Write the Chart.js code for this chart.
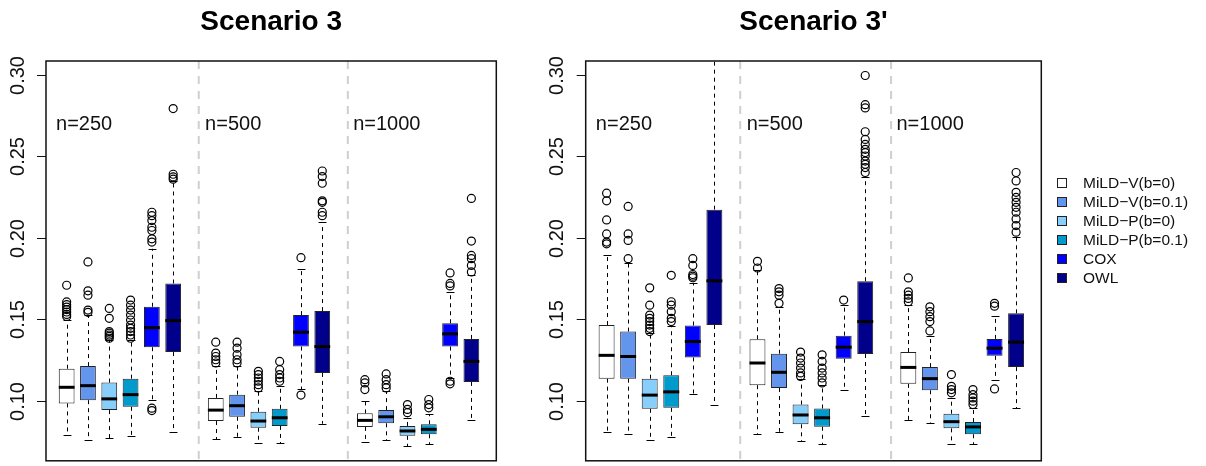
<!DOCTYPE html>
<html>
<head>
<meta charset="utf-8">
<script src="https://cdn.jsdelivr.net/npm/chart.js@4.4.0/dist/chart.umd.min.js"></script>
<style>
    body { margin: 0; background: #fff; width: 1206px; height: 466px; overflow: hidden; position: relative; font-family: "Liberation Sans", Arial, sans-serif; }
    .panel { position: absolute; top: 0; width: 540px; height: 466px; }
    #legend { position: absolute; left: 1057px; top: 173px; }
    #legend .item { height: 19.1px; display: flex; align-items: center; font-size: 15.5px; color: #111; white-space: nowrap; }
    #legend .sw { width: 8px; height: 8px; border: 1px solid #222; margin-right: 16px; }
</style>
</head>
<body>
<div class="panel" style="left:0"><canvas id="chartS3"></canvas></div>
<div class="panel" style="left:540px"><canvas id="chartS3p"></canvas></div>
<div id="legend"></div>
<script>
const methods = ['MiLD\u2212V(b=0)', 'MiLD\u2212V(b=0.1)', 'MiLD\u2212P(b=0)', 'MiLD\u2212P(b=0.1)', 'COX', 'OWL'];
const groups = ['n=250', 'n=500', 'n=1000'];
const yTicks = [0.10, 0.15, 0.20, 0.25, 0.30];

// Scenario 3 -- values per box, order: n=250 (6 methods), n=500, n=1000
const s3Lower  = [0.0791, 0.0758, 0.0770, 0.0785, 0.1008, 0.0811,
                  0.0764, 0.0780, 0.0740, 0.0740, 0.1070, 0.0860,
                  0.0748, 0.0760, 0.0720, 0.0734, 0.1140, 0.0882];
const s3Q1     = [0.0984, 0.1004, 0.0943, 0.0963, 0.1329, 0.1299,
                  0.0876, 0.0902, 0.0835, 0.0846, 0.1333, 0.1171,
                  0.0840, 0.0862, 0.0785, 0.0795, 0.1333, 0.1116];
const s3Median = [0.1083, 0.1093, 0.1012, 0.1038, 0.1449, 0.1492,
                  0.0943, 0.0970, 0.0876, 0.0896, 0.1421, 0.1333,
                  0.0880, 0.0902, 0.0815, 0.0825, 0.1411, 0.1242];
const s3Q3     = [0.1197, 0.1213, 0.1112, 0.1136, 0.1577, 0.1720,
                  0.1018, 0.1038, 0.0933, 0.0951, 0.1526, 0.1551,
                  0.0923, 0.0943, 0.0846, 0.0856, 0.1476, 0.1380];
const s3Upper  = [0.1496, 0.1526, 0.1374, 0.1374, 0.1933, 0.2349,
                  0.1211, 0.1211, 0.1059, 0.1089, 0.1807, 0.2096,
                  0.0998, 0.1059, 0.0896, 0.0917, 0.1665, 0.1770];
const s3Outliers = [
    [0.1518, 0.1530, 0.1545, 0.1560, 0.1575, 0.1590, 0.1607, 0.1709],
    [0.1543, 0.1557, 0.1648, 0.1675, 0.1852],
    [0.1384, 0.1395, 0.1404, 0.1415, 0.1425, 0.1506, 0.1567],
    [0.1384, 0.1404, 0.1425, 0.1445, 0.1465, 0.1496, 0.1526, 0.1557, 0.1587, 0.1618],
    [0.0940, 0.0955, 0.1974, 0.1994, 0.2045, 0.2065, 0.2106, 0.2136, 0.2157],
    [0.2360, 0.2374, 0.2390, 0.2793],
    [0.1232, 0.1252, 0.1272, 0.1293, 0.1360],
    [0.1232, 0.1252, 0.1283, 0.1323, 0.1360],
    [0.1079, 0.1099, 0.1120, 0.1140, 0.1161, 0.1181],
    [0.1120, 0.1140, 0.1161, 0.1191, 0.1242],
    [0.1035, 0.1878],
    [0.2136, 0.2157, 0.2218, 0.2227, 0.2335, 0.2376, 0.2410],
    [0.1069, 0.1110, 0.1130],
    [0.1079, 0.1099, 0.1130, 0.1165],
    [0.0927, 0.0947, 0.0977],
    [0.0957, 0.0977, 0.1008],
    [0.1104, 0.1120, 0.1705, 0.1720, 0.1785],
    [0.1791, 0.1831, 0.1872, 0.1892, 0.1980, 0.2242]
];

// Scenario 3'
const s3pLower  = [0.0811, 0.0795, 0.0760, 0.0780, 0.1043, 0.0977,
                   0.0795, 0.0811, 0.0754, 0.0734, 0.1069, 0.0907,
                   0.0882, 0.0866, 0.0734, 0.0734, 0.1130, 0.0953];
const s3pQ1     = [0.1136, 0.1136, 0.0951, 0.0957, 0.1266, 0.1465,
                   0.1096, 0.1079, 0.0856, 0.0841, 0.1258, 0.1287,
                   0.1104, 0.1065, 0.0831, 0.0795, 0.1276, 0.1207];
const s3pMedian = [0.1279, 0.1272, 0.1035, 0.1055, 0.1364, 0.1736,
                   0.1232, 0.1175, 0.0913, 0.0896, 0.1329, 0.1486,
                   0.1205, 0.1136, 0.0872, 0.0840, 0.1323, 0.1360];
const s3pQ3     = [0.1465, 0.1425, 0.1136, 0.1157, 0.1462, 0.2173,
                   0.1378, 0.1289, 0.0977, 0.0953, 0.1400, 0.1734,
                   0.1299, 0.1207, 0.0921, 0.0870, 0.1380, 0.1537];
const s3pUpper  = [0.1896, 0.1846, 0.1415, 0.1462, 0.1725, 0.3150,
                   0.1801, 0.1575, 0.1135, 0.1095, 0.1587, 0.2376,
                   0.1587, 0.1398, 0.1018, 0.0957, 0.1520, 0.2008];
const s3pOutliers = [
    [0.1963, 0.1974, 0.2024, 0.2110, 0.2227, 0.2274],
    [0.1872, 0.1984, 0.2024, 0.2193],
    [0.1425, 0.1445, 0.1465, 0.1486, 0.1506, 0.1526, 0.1587, 0.1693],
    [0.1486, 0.1506, 0.1547, 0.1587, 0.1608, 0.1770],
    [0.1755, 0.1765, 0.1775, 0.1831, 0.1872],
    [],
    [0.1815, 0.1856],
    [0.1598, 0.1648, 0.1669, 0.1689],
    [0.1150, 0.1171, 0.1201, 0.1232, 0.1262, 0.1299],
    [0.1110, 0.1140, 0.1171, 0.1201, 0.1242, 0.1282],
    [0.1618],
    [0.2401, 0.2431, 0.2451, 0.2471, 0.2502, 0.2523, 0.2543, 0.2573, 0.2604, 0.2651, 0.2797, 0.2817, 0.2996],
    [0.1608, 0.1628, 0.1648, 0.1669, 0.1754],
    [0.1429, 0.1486, 0.1516, 0.1547, 0.1577],
    [0.1049, 0.1069, 0.1089, 0.1161],
    [0.0977, 0.0998, 0.1018, 0.1038, 0.1069],
    [0.1073, 0.1581, 0.1598],
    [0.2035, 0.2075, 0.2116, 0.2157, 0.2187, 0.2218, 0.2248, 0.2279, 0.2349, 0.2401]
];

const colors = ['#FFFFFF', '#6495ED', '#87CEFA', '#009ACD', '#0000FF', '#00008B'];
const FONT = "'Liberation Sans', Arial, sans-serif";

// box position on the x axis: 6 boxes per group, one empty slot between groups
function boxX(g, m) { return g * 7 + m + 1; }

function seg(ctx, x1, y1, x2, y2) {
    ctx.beginPath();
    ctx.moveTo(x1, y1);
    ctx.lineTo(x2, y2);
    ctx.stroke();
}

function boxExtras(st) {
    return {
        id: 'boxExtras',
        beforeDatasetsDraw(chart) {
            const { ctx, chartArea: a, scales: { x, y } } = chart;
            ctx.save();
            // dashed group separators
            ctx.strokeStyle = '#cfcfcf';
            ctx.lineWidth = 2;
            ctx.setLineDash([8, 7]);
            [7.2, 14.2].forEach(v => {
                const px = x.getPixelForValue(v);
                seg(ctx, px, a.top, px, a.bottom);
            });
            // whiskers + staples
            ctx.beginPath();
            ctx.rect(a.left, a.top, a.right - a.left, a.bottom - a.top);
            ctx.clip();
            ctx.strokeStyle = '#000';
            ctx.lineWidth = 1;
            groups.forEach((_, g) => methods.forEach((_, m) => {
                const i = g * 6 + m;
                const bar = chart.getDatasetMeta(m).data[g];
                const px = Math.round(bar.x) + 0.5;
                const cap = bar.width / 4;
                ctx.setLineDash([4, 4]);
                seg(ctx, px, y.getPixelForValue(st.q3[i]), px, y.getPixelForValue(st.hi[i]));
                seg(ctx, px, y.getPixelForValue(st.q1[i]), px, y.getPixelForValue(st.lo[i]));
                ctx.setLineDash([]);
                [st.lo[i], st.hi[i]].forEach(v => {
                    const py = Math.round(y.getPixelForValue(v)) + 0.5;
                    seg(ctx, px - cap, py, px + cap, py);
                });
            }));
            ctx.restore();
        },
        afterDatasetsDraw(chart) {
            const { ctx, scales: { y } } = chart;
            ctx.save();
            ctx.strokeStyle = '#000';
            ctx.lineWidth = 3;
            groups.forEach((_, g) => methods.forEach((_, m) => {
                const bar = chart.getDatasetMeta(m).data[g];
                const py = y.getPixelForValue(st.med[g * 6 + m]);
                seg(ctx, bar.x - bar.width / 2, py, bar.x + bar.width / 2, py);
            }));
            ctx.restore();
        },
        afterDraw(chart) {
            const { ctx, chartArea: a, scales: { x, y } } = chart;
            ctx.save();
            // y axis ticks and rotated labels
            ctx.strokeStyle = '#111';
            ctx.lineWidth = 1;
            ctx.fillStyle = '#111';
            ctx.font = '20px ' + FONT;
            ctx.textAlign = 'center';
            ctx.textBaseline = 'middle';
            yTicks.forEach(v => {
                const py = Math.round(y.getPixelForValue(v)) + 0.5;
                seg(ctx, a.left - 9, py, a.left, py);
                ctx.save();
                ctx.translate(a.left - 28, py);
                ctx.rotate(-Math.PI / 2);
                ctx.fillText(v.toFixed(2), 0, 0);
                ctx.restore();
            });
            // sample size labels
            ctx.textAlign = 'left';
            [0.5, 7.5, 14.45].forEach((v, g) => {
                ctx.fillText(groups[g], x.getPixelForValue(v), y.getPixelForValue(0.2695));
            });
            // plot frame
            ctx.strokeStyle = '#111';
            ctx.lineWidth = 1.5;
            ctx.strokeRect(a.left, a.top, a.right - a.left, a.bottom - a.top);
            ctx.restore();
        }
    };
}

function makeChart(id, title, st, pad) {
    const datasets = methods.map((name, m) => ({
        label: name,
        data: groups.map((_, g) => ({ x: boxX(g, m), y: [st.q1[g * 6 + m], st.q3[g * 6 + m]] })),
        backgroundColor: colors[m],
        borderColor: '#222',
        borderWidth: 1,
        borderSkipped: false,
        grouped: false,
        barPercentage: 0.74,
        categoryPercentage: 1
    }));
    const outPoints = [];
    st.out.forEach((vals, i) => {
        const g = Math.floor(i / 6), m = i % 6;
        vals.forEach(v => outPoints.push({ x: boxX(g, m), y: v }));
    });
    datasets.push({
        type: 'scatter',
        label: 'outliers',
        data: outPoints,
        pointRadius: 4,
        pointBorderColor: '#000',
        pointBorderWidth: 1.2,
        pointBackgroundColor: 'rgba(0,0,0,0)'
    });

    new Chart(document.getElementById(id), {
        type: 'bar',
        data: { datasets: datasets },
        options: {
            responsive: true,
            maintainAspectRatio: false,
            animation: false,
            events: [],
            layout: { padding: pad },
            plugins: {
                legend: { display: false },
                tooltip: { enabled: false },
                title: {
                    display: true,
                    text: title,
                    color: '#000',
                    font: { family: FONT, size: 28, weight: 'bold' },
                    padding: { top: 5, bottom: 22.4 }
                }
            },
            scales: {
                x: { type: 'linear', display: false, offset: false, min: 0.03, max: 21.17 },
                y: { type: 'linear', display: false, beginAtZero: false, min: 0.0632, max: 0.3085 }
            }
        },
        plugins: [boxExtras(st)]
    });
}

makeChart('chartS3', 'Scenario 3',
    { lo: s3Lower, q1: s3Q1, med: s3Median, q3: s3Q3, hi: s3Upper, out: s3Outliers },
    { left: 46, right: 43.7, top: 0, bottom: 2.5 });
makeChart('chartS3p', "Scenario 3'",
    { lo: s3pLower, q1: s3pQ1, med: s3pMedian, q3: s3pQ3, hi: s3pUpper, out: s3pOutliers },
    { left: 45.7, right: 38.7, top: 0, bottom: 2.5 });

// legend
const legend = document.getElementById('legend');
methods.forEach((name, m) => {
    const item = document.createElement('div');
    item.className = 'item';
    item.innerHTML = '<span class="sw" style="background:' + colors[m] + '"></span><span>' + name + '</span>';
    legend.appendChild(item);
});
</script>
</body>
</html>
